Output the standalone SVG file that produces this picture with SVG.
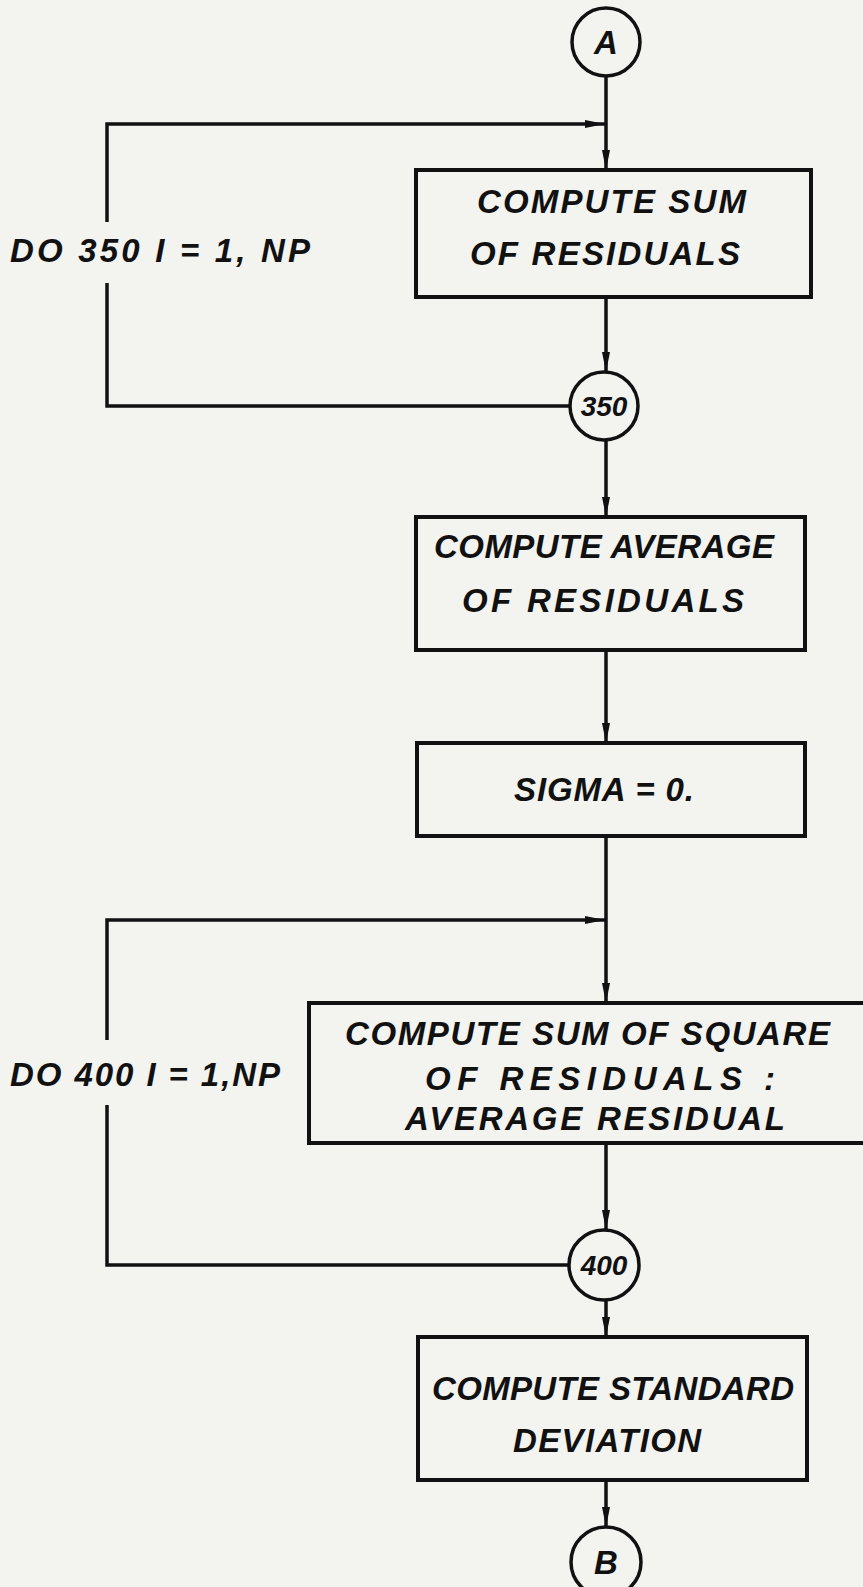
<svg xmlns="http://www.w3.org/2000/svg" width="863" height="1587" viewBox="0 0 863 1587">
<style>
.bg{fill:#f3f3f0}
.box{fill:none;stroke:#111;stroke-width:4}
.circ{fill:none;stroke:#111;stroke-width:3.5}
.ln{fill:none;stroke:#111;stroke-width:3.5}
text{font-family:"Liberation Sans",Arial,sans-serif;font-style:italic;font-size:33px;fill:#111;font-weight:bold}
.c{text-anchor:middle}
.n{font-size:28px}
</style>
<defs>
<marker id="ah" viewBox="0 0 20 10" refX="20" refY="5" markerWidth="20" markerHeight="10" markerUnits="userSpaceOnUse" orient="auto">
<path d="M0,1 L20,5 L0,9 Z" fill="#111"/>
</marker>
</defs>
<rect class="bg" x="0" y="0" width="863" height="1587"/>
<g id="connectors">
<line class="ln" x1="606" y1="76" x2="606" y2="170" marker-end="url(#ah)"/>
<path class="ln" d="M570,406 H107 V283"/>
<path class="ln" d="M107,222 V124 H605" marker-end="url(#ah)"/>
<line class="ln" x1="606" y1="297" x2="606" y2="372" marker-end="url(#ah)"/>
<line class="ln" x1="606" y1="440" x2="606" y2="517" marker-end="url(#ah)"/>
<line class="ln" x1="606" y1="650" x2="606" y2="743" marker-end="url(#ah)"/>
<line class="ln" x1="606" y1="836" x2="606" y2="1003" marker-end="url(#ah)"/>
<path class="ln" d="M570,1265 H107 V1105"/>
<path class="ln" d="M107,1040 V920 H605" marker-end="url(#ah)"/>
<line class="ln" x1="606" y1="1143" x2="606" y2="1230" marker-end="url(#ah)"/>
<line class="ln" x1="606" y1="1300" x2="606" y2="1337" marker-end="url(#ah)"/>
<line class="ln" x1="606" y1="1480" x2="606" y2="1527" marker-end="url(#ah)"/>
</g>
<g id="nodeA">
<circle class="circ" cx="606" cy="42" r="34"/>
<text class="c" x="606" y="54">A</text>
</g>
<g id="box1">
<rect class="box" x="416" y="170" width="395" height="127"/>
<text x="477" y="213" textLength="269" lengthAdjust="spacing">COMPUTE  SUM</text>
<text x="470" y="265" textLength="270" lengthAdjust="spacing">OF RESIDUALS</text>
</g>
<g id="label350">
<text x="10" y="262" textLength="300" lengthAdjust="spacing">DO 350  I = 1, NP</text>
</g>
<g id="node350">
<circle class="circ" cx="604" cy="406" r="34"/>
<text class="c n" x="604" y="416">350</text>
</g>
<g id="box2">
<rect class="box" x="416" y="517" width="389" height="133"/>
<text x="434" y="558" textLength="340" lengthAdjust="spacing">COMPUTE AVERAGE</text>
<text x="462" y="612" textLength="282" lengthAdjust="spacing">OF RESIDUALS</text>
</g>
<g id="box3">
<rect class="box" x="417" y="743" width="388" height="93"/>
<text x="514" y="801" textLength="180" lengthAdjust="spacing">SIGMA = 0.</text>
</g>
<g id="box4">
<rect class="box" x="309" y="1003" width="580" height="140"/>
<text x="345" y="1045" textLength="485" lengthAdjust="spacing">COMPUTE SUM OF SQUARE</text>
<text x="425" y="1090" textLength="350" lengthAdjust="spacing">OF  RESIDUALS :</text>
<text x="405" y="1130" textLength="380" lengthAdjust="spacing">AVERAGE RESIDUAL</text>
</g>
<g id="label400">
<text x="10" y="1086" textLength="270" lengthAdjust="spacing">DO 400 I = 1,NP</text>
</g>
<g id="node400">
<circle class="circ" cx="604" cy="1265" r="35"/>
<text class="c n" x="604" y="1275">400</text>
</g>
<g id="box5">
<rect class="box" x="418" y="1337" width="389" height="143"/>
<text x="432" y="1400" textLength="362" lengthAdjust="spacing">COMPUTE STANDARD</text>
<text x="513" y="1452" textLength="188" lengthAdjust="spacing">DEVIATION</text>
</g>
<g id="nodeB">
<circle class="circ" cx="606" cy="1562" r="35"/>
<text class="c" x="606" y="1574">B</text>
</g>
</svg>
